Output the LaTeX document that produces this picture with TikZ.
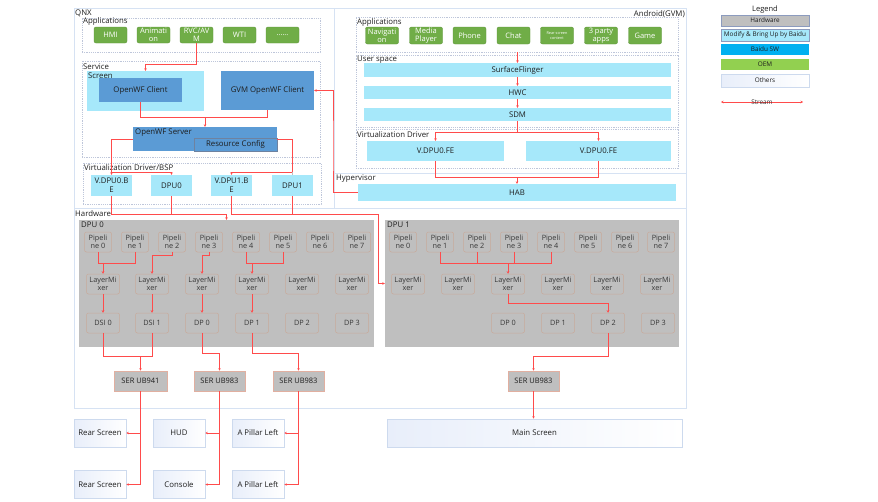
\documentclass[tikz,border=0pt]{standalone}
\usepackage{fontspec}
\setmainfont{Open Sans}
\usetikzlibrary{arrows.meta}
\definecolor{frm}{RGB}{214,226,243}
\definecolor{dsh}{RGB}{190,198,218}
\definecolor{txt}{RGB}{30,30,30}
\definecolor{txt2}{RGB}{55,55,55}
\definecolor{appg}{RGB}{112,173,71}
\definecolor{appgd}{RGB}{96,150,60}
\definecolor{cyan1}{RGB}{166,232,250}
\definecolor{blue1}{RGB}{91,155,213}
\definecolor{rcb}{RGB}{110,130,160}
\definecolor{hwg}{RGB}{191,191,191}
\definecolor{tan1}{RGB}{200,170,155}
\definecolor{sal}{RGB}{225,175,160}
\definecolor{dispb}{RGB}{205,218,238}
\definecolor{dispg}{RGB}{232,238,250}
\definecolor{strm}{RGB}{255,75,75}
\definecolor{lgb}{RGB}{140,155,190}
\definecolor{baidu}{RGB}{0,176,240}
\definecolor{oem}{RGB}{146,208,80}
\tikzset{
 bx/.style={inner sep=0pt, align=center, text=txt},
 sz/.style 2 args={minimum width=#1pt, minimum height=#2pt},
 appbtn/.style={bx, fill=appg, draw=appgd, line width=0.4pt, rounded corners=2pt, text=white, font=\fontsize{7.5}{8}\selectfont},
 cyanbox/.style={bx, fill=cyan1},
 bluebox/.style={bx, fill=blue1},
 hwbox/.style={bx, fill=hwg},
 pipebox/.style={bx, fill=hwg, draw=tan1, line width=0.5pt, rounded corners=2pt, text=txt2, font=\fontsize{7.3}{8.5}\selectfont},
 serbox/.style={bx, fill=hwg, draw=sal, line width=0.6pt, font=\fontsize{7.5}{8.5}\selectfont},
 dispbox/.style={bx, draw=dispb, line width=0.6pt, left color=dispg, right color=white, font=\fontsize{7.8}{8.5}\selectfont},
 dashbox/.style={draw=dsh, line width=0.6pt, dash pattern=on 1.2pt off 1pt, inner sep=0pt},
 frameline/.style={draw=frm, line width=0.8pt},
 rl/.style={draw=strm, line width=0.7pt},
 arr/.style={-{Stealth[length=2.5pt,width=2.5pt]}},
 arrb/.style={{Stealth[length=2.5pt,width=2.5pt]}-{Stealth[length=2.5pt,width=2.5pt]}},
 lbl/.style={inner sep=0pt, anchor=west, text=txt},
 lgbox/.style={bx, draw=lgb, line width=0.5pt, font=\fontsize{6.4}{7}\selectfont},
}
\begin{document}
\begin{tikzpicture}[x=1pt,y=-1pt,font=\fontsize{7.8}{9}\selectfont]
\fill[white] (0,0) rectangle (878,501);
\useasboundingbox (0,0) rectangle (878,501);
% frames
\draw[frameline] (74,8) rectangle (686,408);
\draw[frameline] (334,8) -- (334,208);
\draw[frameline] (74,208) -- (686,208);
\draw[frameline] (334,173) -- (686,173);
\node[lbl] at (75,13) {QNX};
\node[inner sep=0pt, anchor=east, text=txt] at (685,14) {Android(GVM)};
\node[lbl] at (336,179) {Hypervisor};
\node[lbl] at (75,213.5) {Hardware};
% QNX applications
\node[dashbox, sz={238}{34}] (qapps) at (201,35) {};
\node[lbl] at (83,21.5) {Applications};
\node[appbtn, sz={33}{16}] (hmi) at (110.5,35) {HMI};
\node[appbtn, sz={33}{16}] (anim) at (153.5,35) {Animati\\on};
\node[appbtn, sz={33}{16}] (rvc) at (196.5,35) {RVC/AV\\M};
\node[appbtn, sz={33}{16}] (wti) at (239.5,35) {WTI};
\node[appbtn, sz={33}{16}] (dots) at (282.5,35) {......};
% Service
\node[dashbox, sz={238}{96}] (svc) at (201,109) {};
\node[lbl] at (83,66.5) {Service};
\node[cyanbox, sz={117}{40}] (screen) at (145.5,91) {};
\node[lbl] at (88,76) {Screen};
\node[bluebox, sz={83}{24}] (owc) at (140.5,90) {OpenWF Client};
\node[bluebox, sz={93}{39}] (gvm) at (267.5,90.5) {GVM OpenWF Client};
\node[bluebox, sz={144}{24}] (server) at (205,139) {};
\node[lbl] at (135,132.5) {OpenWF Server};
\node[bluebox, draw=rcb, line width=0.5pt, sz={83}{13}] (rc) at (235.5,144.5) {Resource Config};
% QNX virtualization
\node[dashbox, sz={238}{41}] (qvd) at (202,183.5) {};
\node[lbl] at (84,168) {Virtualization Driver/BSP};
\node[cyanbox, sz={41}{21}] (vbe0) at (111.5,185.5) {V.DPU0.B\\E};
\node[cyanbox, sz={41}{21}] (dpu0) at (171.5,185.5) {DPU0};
\node[cyanbox, sz={41}{21}] (vbe1) at (231.5,185.5) {V.DPU1.B\\E};
\node[cyanbox, sz={41}{21}] (dpu1) at (292.5,185.5) {DPU1};
% Android
\node[dashbox, sz={322}{35}] (aapps) at (517,34.5) {};
\node[lbl] at (357,22) {Applications};
\node[appbtn, sz={33}{17}] (nav) at (382,35.5) {Navigati\\on};
\node[appbtn, sz={33}{17}] (media) at (426,35.5) {Media\\Player};
\node[appbtn, sz={33}{17}] (phone) at (469.5,35.5) {Phone};
\node[appbtn, sz={33}{17}] (chat) at (513.5,35.5) {Chat};
\node[appbtn, sz={33}{17}, font=\fontsize{3.8}{4.6}\selectfont] (rearc) at (557,35.5) {Rear screen\\content};
\node[appbtn, sz={33}{17}] (party) at (601,35.5) {3 party\\apps};
\node[appbtn, sz={33}{17}] (game) at (645,35.5) {Game};
\node[dashbox, sz={322}{72}] (us) at (517,91) {};
\node[lbl] at (357,60) {User space};
\node[cyanbox, sz={307}{14}] (sf) at (517.5,70) {SurfaceFlinger};
\node[cyanbox, sz={307}{13}] (hwc) at (517.5,92.5) {HWC};
\node[cyanbox, sz={307}{13}] (sdm) at (517.5,114.5) {SDM};
\node[dashbox, sz={322}{39}] (avd) at (517,148.5) {};
\node[lbl] at (357,134.5) {Virtualization Driver};
\node[cyanbox, sz={137}{20}] (fe1) at (435.5,151) {V.DPU0.FE};
\node[cyanbox, sz={145}{20}] (fe2) at (598.5,151) {V.DPU0.FE};
\node[cyanbox, sz={318}{17}] (hab) at (517,192.5) {HAB};
% Hardware
\node[hwbox, sz={295}{127}] (dpuA) at (226.5,283.5) {};
\node[lbl] at (81,225) {DPU 0};
\node[hwbox, sz={294}{127}] (dpuB) at (532,283.5) {};
\node[lbl] at (387,225) {DPU 1};
\foreach \i/\x in {0/98,1/135,2/172,3/209,4/246,5/283,6/320,7/357}
  \node[pipebox, sz={27}{20}] (pa\i) at (\x,242) {Pipeli\\ne \i};
\foreach \i/\x in {0/103,1/152,2/202,3/252,4/302,5/352}
  \node[pipebox, sz={33}{20}] (la\i) at (\x,284) {LayerMi\\xer};
\foreach \i/\x/\t in {0/103/DSI 0,1/152/DSI 1,2/202/DP 0,3/252/DP 1,4/302/DP 2,5/352/DP 3}
  \node[pipebox, sz={33}{20}] (oa\i) at (\x,323) {\t};
\foreach \i/\x in {0/403,1/440,2/477,3/514,4/551,5/588,6/625,7/661}
  \node[pipebox, sz={27}{20}] (pb\i) at (\x,242) {Pipeli\\ne \i};
\foreach \i/\x in {0/408,1/458,2/508,3/558,4/607,5/657}
  \node[pipebox, sz={33}{20}] (lb\i) at (\x,284) {LayerMi\\xer};
\foreach \i/\x in {0/508,1/558,2/608,3/658}
  \node[pipebox, sz={33}{20}] (ob\i) at (\x,323) {DP \i};
% SER
\node[serbox, sz={53}{20}] (ser1) at (140.5,381) {SER UB941};
\node[serbox, sz={51}{20}] (ser2) at (219.5,381) {SER UB983};
\node[serbox, sz={51}{20}] (ser3) at (298.5,381) {SER UB983};
\node[serbox, sz={51}{20}] (ser4) at (533.5,381) {SER UB983};
% displays
\node[dispbox, sz={52}{28}] (rs1) at (100,433) {Rear Screen};
\node[dispbox, sz={52}{28}] (hud) at (179,433) {HUD};
\node[dispbox, sz={52}{28}] (apl1) at (258,433) {A Pillar Left};
\node[dispbox, sz={52}{28}] (rs2) at (100,484.5) {Rear Screen};
\node[dispbox, sz={52}{28}] (cons) at (179,484.5) {Console};
\node[dispbox, sz={52}{28}] (apl2) at (258,484.5) {A Pillar Left};
\node[dispbox, sz={295}{28}] (mainscr) at (534.5,433) {Main Screen};
% legend
\node[text=txt, inner sep=0pt, font=\fontsize{7.5}{8}\selectfont] (legt) at (765,10) {Legend};
\node[lgbox, fill=hwg, sz={88}{11}] (lg1) at (765,20.5) {Hardware};
\node[lgbox, fill=cyan1, sz={88}{12}] (lg2) at (765,35) {Modify \& Bring Up by Baidu};
\node[lgbox, fill=baidu, draw=none, sz={88}{11}] (lg3) at (765,49.5) {Baidu SW};
\node[lgbox, fill=oem, draw=none, sz={88}{11}] (lg4) at (765,64.5) {OEM};
\node[lgbox, draw=dispb, left color=dispg, right color=white, sz={88}{13}] (lg5) at (765,80.5) {Others};
\coordinate (s1) at (721,102);
\coordinate (s2) at (803,102);
\draw[rl, arrb] (s1) -- (s2) node[midway, inner sep=0pt, text=txt2, font=\fontsize{6.4}{7}\selectfont] {Stream};
% helper coordinates
\coordinate (y64) at (0,64);
\coordinate (y117) at (0,117);
\coordinate (y172) at (0,172);
\coordinate (y214) at (0,214);
\coordinate (k1) at (378,214);
\coordinate (k2) at (333,150);
\coordinate (y132) at (0,132);
\coordinate (y177) at (0,177);
\coordinate (y263) at (0,263);
\coordinate (y255) at (0,255);
\coordinate (y303) at (0,303);
\coordinate (y356) at (0,356);
\coordinate (y353) at (0,353);
% QNX streams
\draw[rl, arr] (rvc.south) -- (rvc.south |- y64) -| (screen.north);
\draw[rl] (owc.south) -- (owc.south |- y117) -| (gvm.south);
\draw[rl, arr] (server.north |- y117) -- (server.north);
\draw[rl, arr] (server.west) -| (vbe0.north);
\draw[rl, arr] (vbe0.north |- y172) -| (dpu0.north);
\draw[rl, arr] (server.east) -| (dpu1.north |- y172) -| (vbe1.north);
\draw[draw=hwg, line width=0.6pt] (dpu1.north |- y172) -- (dpu1.north);
\draw[rl, arr] (vbe0.south) -- (vbe0.south |- y214) -| (dpuA.north);
\draw[rl] (dpu0.south) -- (dpu0.south |- y214);
\draw[rl, arr] (vbe1.south) |- (k1) |- (dpuB.west);
\draw[rl] (dpu1.south) -- (dpu1.south |- k1);
\draw[rl, arr] (hab.west) -| (k2) |- (gvm.east);
% Android streams
\draw[rl, arr] (sf.north |- aapps.south) -- (sf.north);
\draw[rl, arr] (sf.south) -- (hwc.north);
\draw[rl, arr] (hwc.south) -- (sdm.north);
\draw[rl] (sdm.south) -- (sdm.south |- y132);
\draw[rl, arr] (sdm.south |- y132) -| (fe1.north);
\draw[rl, arr] (sdm.south |- y132) -| (fe2.north);
\draw[rl] (fe1.south) -- (fe1.south |- y177) -| (fe2.south);
\draw[rl, arr] (hab.north |- y177) -- (hab.north);
% DPU 0 streams
\draw[rl] (pa0.south) -- (pa0.south |- y263) -| (pa1.south);
\draw[rl, arr] (la0.north |- y263) -- (la0.north);
\draw[rl, arr] (pa2.south) -- (pa2.south |- y255) -| (la1.north);
\draw[rl, arr] (pa3.south) -- (pa3.south |- y255) -| (la2.north);
\draw[rl] (pa4.south) -- (pa4.south |- y263) -| (pa5.south);
\draw[rl, arr] (la3.north |- y263) -- (la3.north);
\draw[rl, arr] (la0.south) -- (oa0.north);
\draw[rl, arr] (la1.south) -- (oa1.north);
\draw[rl, arr] (la2.south) -- (oa2.north);
\draw[rl, arr] (la3.south) -- (oa3.north);
% DPU 1 streams
\draw[rl] (pb1.south) -- (pb1.south |- y263) -| (pb4.south);
\draw[rl] (pb2.south) -- (pb2.south |- y263);
\draw[rl] (pb3.south) -- (pb3.south |- y263);
\draw[rl, arr] (lb2.north |- y263) -- (lb2.north);
\draw[rl, arr] (lb2.south) -- (lb2.south |- y303) -| (ob2.north);
% to SER
\draw[rl] (oa0.south) -- (oa0.south |- y356) -| (oa1.south);
\draw[rl, arr] (ser1.north |- y356) -- (ser1.north);
\draw[rl, arr] (oa2.south) -- (oa2.south |- y353) -| (ser2.north);
\draw[rl, arr] (oa3.south) -- (oa3.south |- y353) -| (ser3.north);
\draw[rl, arr] (ob2.south) -- (ob2.south |- y356) -| (ser4.north);
% to displays
\draw[rl, arr] (ser1.south) |- (rs2.east);
\draw[rl, arr] (ser1.south |- rs1.east) -- (rs1.east);
\draw[rl, arr] (ser2.south) |- (cons.east);
\draw[rl, arr] (ser2.south |- hud.east) -- (hud.east);
\draw[rl, arr] (ser3.south) |- (apl2.east);
\draw[rl, arr] (ser3.south |- apl1.east) -- (apl1.east);
\draw[rl, arr] (ser4.south) -- (ser4.south |- mainscr.north);
\end{tikzpicture}
\end{document}
